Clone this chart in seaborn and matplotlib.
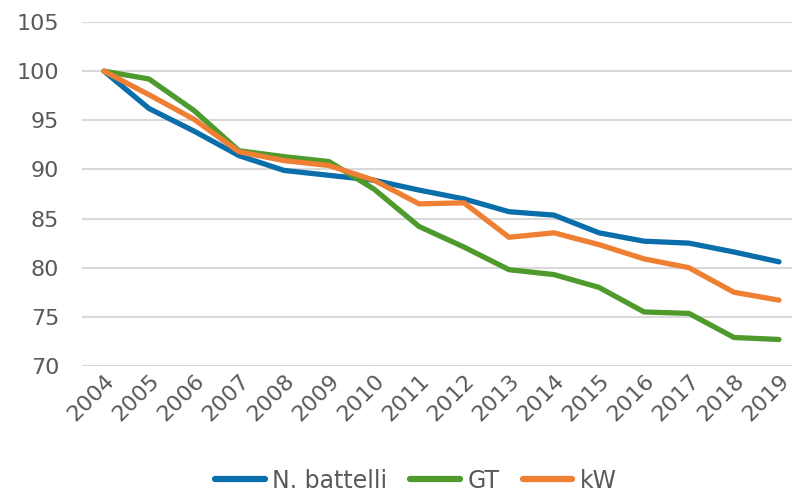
import numpy as np
import pandas as pd
import matplotlib
matplotlib.use('Agg')
import matplotlib.pyplot as plt
import seaborn as sns

# index 2004 = 100
anni = [str(a) for a in range(2004, 2020)]
n_battelli = [100, 96.2, 93.9, 91.4, 89.9, 89.4, 88.9, 87.9, 87.0, 85.7, 85.35, 83.55, 82.7, 82.5, 81.6, 80.6]
gt = [100, 99.2, 96.0, 91.9, 91.3, 90.8, 88.0, 84.2, 82.1, 79.8, 79.3, 78.0, 75.5, 75.35, 72.9, 72.7]
kw = [100, 97.6, 95.1, 91.8, 90.9, 90.4, 88.9, 86.5, 86.6, 83.1, 83.55, 82.35, 80.9, 80.0, 77.5, 76.7]

serie = ['N. battelli', 'GT', 'kW']
colori = ['#0A6EAA', '#4E9A2C', '#EE7F33']

df = pd.DataFrame({'anno': anni * 3,
                   'valore': n_battelli + gt + kw,
                   'serie': np.repeat(serie, len(anni))})

sns.set_style('white')
plt.rcParams['font.family'] = ['DejaVu Sans']

fig = plt.figure(figsize=(7.92, 4.97), dpi=100)
ax = fig.add_axes([81.5 / 792, 1 - 366 / 497, 720 / 792, 344 / 497])

sns.lineplot(data=df, x='anno', y='valore', hue='serie', hue_order=serie,
             palette=colori, linewidth=3.8, ax=ax, sort=False)

ax.set_xlim(-0.5, len(anni) - 0.5)
ax.set_ylim(70, 105)
ax.set_yticks(range(70, 106, 5))
ax.grid(axis='y', color='#D9D9D9', linewidth=1.5)
ax.set_axisbelow(True)
for s in ax.spines.values():
    s.set_visible(False)
ax.set_xlabel('')
ax.set_ylabel('')
ax.tick_params(axis='both', length=0, labelsize=16, labelcolor='#595959')
ax.tick_params(axis='y', pad=16)
ax.tick_params(axis='x', pad=3)
plt.setp(ax.get_xticklabels(), rotation=45, ha='right', rotation_mode='anchor')

h, l = ax.get_legend_handles_labels()
for hh in h:
    hh.set_linewidth(4.5)
ax.legend(h, l, loc='lower center', bbox_to_anchor=(0.525, -0.01), bbox_transform=fig.transFigure,
          ncol=3, frameon=False, fontsize=17, handlelength=2.1, columnspacing=1.0,
          handletextpad=0.3, labelcolor='#595959', borderaxespad=0.0)

fig.savefig('out.png', dpi=100)
